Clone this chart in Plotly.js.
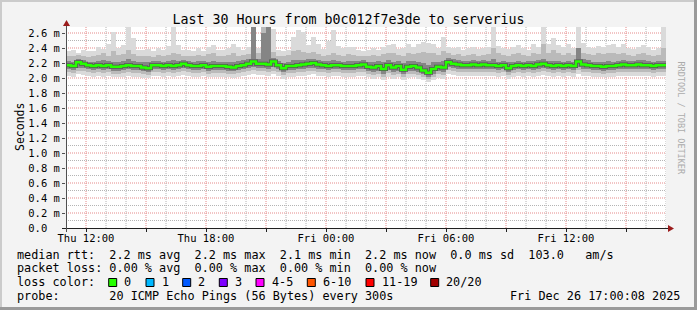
<!DOCTYPE html>
<html>
<head>
<meta charset="utf-8">
<script src="https://cdn.plot.ly/plotly-3.0.1.min.js"></script>
<style>html,body{margin:0;padding:0;background:#f3f3f3;}#chart{width:697px;height:310px;}</style>
</head>
<body>
<div id="chart"></div>
<script>
// ---- data (15-minute steps, starting Thu 11:00) ----
const startTime = Date.UTC(2025, 11, 25, 11, 0, 0);
const endTime = Date.UTC(2025, 11, 26, 17, 0, 0);
const stepMinutes = 15;

const median = [
 2.17,2.16,2.21,2.19,2.17,2.16,2.17,2.16,2.17,2.15,2.15,2.16,
 2.17,2.16,2.16,2.14,2.13,2.17,2.17,2.16,2.17,2.16,2.17,2.19,
 2.17,2.16,2.16,2.17,2.15,2.16,2.16,2.16,2.15,2.14,2.16,2.17,
 2.19,2.22,2.19,2.19,2.18,2.22,2.17,2.13,2.16,2.16,2.17,2.18,
 2.19,2.20,2.18,2.17,2.16,2.17,2.17,2.16,2.16,2.16,2.17,2.18,
 2.15,2.14,2.16,2.12,2.17,2.14,2.16,2.11,2.15,2.16,2.14,2.10,
 2.07,2.12,2.15,2.14,2.21,2.19,2.18,2.17,2.17,2.18,2.17,2.18,
 2.17,2.17,2.16,2.17,2.13,2.16,2.17,2.16,2.17,2.16,2.18,2.19,
 2.17,2.16,2.17,2.16,2.17,2.16,2.22,2.18,2.17,2.16,2.16,2.15,
 2.16,2.16,2.17,2.18,2.17,2.17,2.18,2.17,2.17,2.16,2.17,2.17
];
const pingMax = [
 2.36,2.38,2.34,2.37,2.36,2.36,2.41,2.39,2.45,2.61,2.40,2.44,
 2.68,2.53,2.38,2.37,2.39,2.36,2.40,2.38,2.43,2.68,2.44,2.37,
 2.37,2.36,2.40,2.36,2.42,2.44,2.38,2.37,2.40,2.46,2.41,2.38,
 2.42,2.68,2.40,2.68,2.68,2.66,2.38,2.36,2.38,2.55,2.64,2.62,
 2.44,2.55,2.45,2.39,2.50,2.64,2.43,2.40,2.41,2.42,2.38,2.36,
 2.38,2.40,2.37,2.41,2.44,2.45,2.39,2.40,2.45,2.42,2.46,2.48,
 2.47,2.45,2.40,2.55,2.42,2.40,2.41,2.38,2.40,2.41,2.39,2.40,
 2.42,2.68,2.43,2.40,2.39,2.41,2.44,2.40,2.38,2.46,2.42,2.68,
 2.45,2.53,2.44,2.41,2.46,2.40,2.68,2.47,2.42,2.40,2.43,2.41,
 2.44,2.46,2.42,2.45,2.40,2.39,2.42,2.44,2.41,2.38,2.40,2.68
];
const ping90 = [
 2.29,2.30,2.31,2.30,2.28,2.29,2.31,2.33,2.30,2.36,2.31,2.32,
 2.38,2.32,2.30,2.29,2.30,2.28,2.31,2.30,2.31,2.34,2.32,2.30,
 2.30,2.29,2.31,2.29,2.32,2.33,2.30,2.29,2.31,2.33,2.30,2.31,
 2.32,2.68,2.33,2.68,2.68,2.35,2.30,2.29,2.31,2.36,2.38,2.35,
 2.33,2.35,2.32,2.30,2.31,2.34,2.31,2.30,2.32,2.31,2.30,2.29,
 2.30,2.31,2.30,2.32,2.34,2.33,2.31,2.30,2.34,2.32,2.33,2.35,
 2.34,2.33,2.31,2.36,2.33,2.31,2.32,2.30,2.31,2.32,2.30,2.31,
 2.32,2.40,2.33,2.31,2.30,2.32,2.34,2.31,2.30,2.33,2.32,2.45,
 2.34,2.37,2.33,2.31,2.33,2.31,2.40,2.34,2.32,2.31,2.33,2.32,
 2.33,2.34,2.32,2.33,2.31,2.30,2.32,2.34,2.31,2.30,2.31,2.40
];
const ping75 = [
 2.23,2.22,2.26,2.24,2.22,2.22,2.23,2.24,2.23,2.22,2.22,2.23,
 2.25,2.23,2.22,2.21,2.21,2.23,2.23,2.22,2.23,2.24,2.23,2.24,
 2.23,2.22,2.23,2.23,2.22,2.23,2.22,2.22,2.22,2.21,2.23,2.24,
 2.25,2.68,2.25,2.60,2.68,2.27,2.23,2.20,2.22,2.24,2.24,2.24,
 2.25,2.26,2.24,2.23,2.23,2.24,2.23,2.22,2.23,2.23,2.23,2.24,
 2.22,2.22,2.23,2.21,2.24,2.22,2.23,2.20,2.23,2.23,2.22,2.20,
 2.18,2.21,2.22,2.23,2.27,2.25,2.24,2.23,2.23,2.24,2.23,2.24,
 2.23,2.25,2.22,2.23,2.21,2.22,2.23,2.22,2.23,2.23,2.24,2.26,
 2.23,2.23,2.23,2.22,2.23,2.22,2.40,2.26,2.24,2.22,2.22,2.22,
 2.23,2.22,2.23,2.24,2.23,2.23,2.24,2.24,2.23,2.22,2.23,2.23
];
const ping25 = [
 2.12,2.11,2.14,2.13,2.12,2.11,2.12,2.11,2.12,2.10,2.10,2.11,
 2.12,2.11,2.11,2.09,2.08,2.12,2.12,2.11,2.12,2.11,2.12,2.13,
 2.12,2.11,2.11,2.12,2.10,2.11,2.11,2.11,2.10,2.09,2.11,2.12,
 2.13,2.15,2.13,2.13,2.12,2.15,2.12,2.08,2.11,2.11,2.12,2.12,
 2.13,2.14,2.12,2.12,2.11,2.12,2.12,2.11,2.11,2.11,2.12,2.12,
 2.10,2.08,2.10,2.06,2.11,2.08,2.10,2.05,2.09,2.10,2.08,2.05,
 2.02,2.06,2.09,2.08,2.15,2.13,2.12,2.12,2.12,2.12,2.12,2.12,
 2.12,2.12,2.11,2.12,2.08,2.11,2.12,2.11,2.12,2.11,2.12,2.13,
 2.12,2.11,2.12,2.11,2.12,2.11,2.15,2.12,2.12,2.11,2.11,2.10,
 2.11,2.11,2.12,2.12,2.12,2.12,2.12,2.12,2.12,2.11,2.12,2.12
];
const ping10 = [
 2.08,2.07,2.10,2.09,2.08,2.07,2.08,2.07,2.08,2.06,2.06,2.07,
 2.08,2.07,2.07,2.05,2.04,2.08,2.08,2.07,2.08,2.07,2.08,2.09,
 2.08,2.07,2.07,2.08,2.06,2.07,2.07,2.07,2.06,2.05,2.07,2.08,
 2.09,2.11,2.09,2.09,2.08,2.10,2.08,2.04,2.07,2.07,2.08,2.08,
 2.09,2.10,2.08,2.08,2.07,2.08,2.08,2.07,2.07,2.07,2.08,2.08,
 2.06,2.04,2.06,2.02,2.07,2.04,2.06,2.01,2.05,2.06,2.04,2.01,
 1.99,2.02,2.05,2.04,2.11,2.09,2.08,2.08,2.08,2.08,2.08,2.08,
 2.08,2.08,2.07,2.08,2.04,2.07,2.08,2.07,2.08,2.07,2.08,2.09,
 2.08,2.07,2.08,2.07,2.08,2.07,2.11,2.08,2.08,2.07,2.07,2.06,
 2.07,2.07,2.08,2.08,2.08,2.08,2.08,2.08,2.08,2.07,2.08,2.08
];
const pingMin = [
 2.03,2.02,2.05,2.04,2.03,2.01,2.03,2.02,2.03,2.01,2.02,2.02,
 2.03,2.02,2.02,2.00,2.00,2.03,2.03,2.02,2.03,2.02,2.03,2.04,
 2.03,2.02,2.02,2.03,2.01,2.02,2.02,2.02,2.01,2.00,2.02,2.03,
 2.04,2.06,2.04,2.04,2.03,2.05,2.03,1.99,2.02,2.02,2.03,2.03,
 2.04,2.05,2.03,2.03,2.02,2.03,2.03,2.02,2.02,2.02,2.03,2.03,
 2.01,1.99,2.01,1.98,2.02,1.99,2.01,1.97,2.00,2.01,1.99,1.97,
 1.95,1.98,2.00,1.99,2.06,2.04,2.03,2.03,2.03,2.03,2.03,2.03,
 2.03,2.03,2.02,2.03,1.99,2.02,2.03,2.02,2.03,2.02,2.03,2.04,
 2.03,2.02,2.03,2.02,2.03,2.02,2.06,2.03,2.03,2.02,2.02,2.01,
 2.02,2.02,2.03,2.03,2.03,2.03,2.03,2.03,2.03,2.02,2.03,2.03
];

const xTickVals = ['2025-12-25 12:00','2025-12-25 15:00','2025-12-25 18:00','2025-12-25 21:00',
  '2025-12-26 00:00','2025-12-26 03:00','2025-12-26 06:00','2025-12-26 09:00','2025-12-26 12:00','2025-12-26 15:00'];
const xTickText = ['Thu 12:00','','Thu 18:00','','Fri 00:00','','Fri 06:00','','Fri 12:00',''];
const yTickVals = [0,0.2,0.4,0.6,0.8,1.0,1.2,1.4,1.6,1.8,2.0,2.2,2.4,2.6];
const yTickText = ['0.0\u00a0\u00a0','0.2 m','0.4 m','0.6 m','0.8 m','1.0 m','1.2 m','1.4 m','1.6 m','1.8 m','2.0 m','2.2 m','2.4 m','2.6 m'];
const yMinorStep = 0.1;
const xMinorHours = 1;
const xMajorHours = 3;

const lossLabels = ['0','1','2','3','4-5','6-10','11-19','20/20'];
const lossColors = ['#26ff00','#00b8ff','#0059ff','#7e00ff','#ff00ff','#ff5500','#ff0000','#a10000'];

const titleText = 'Last 30 Hours from b0c012f7e3de to serverius';
const legendLine1 = 'median rtt:  2.2 ms avg  2.2 ms max  2.1 ms min  2.2 ms now  0.0 ms sd  103.0   am/s';
const legendLine2 = 'packet loss: 0.00 % avg  0.00 % max  0.00 % min  0.00 % now';
const legendLine3 = 'loss color:';
const probeText = 'probe:       20 ICMP Echo Pings (56 Bytes) every 300s';
const dateText = 'Fri Dec 26 17:00:08 2025';

// ---- helpers ----
function fmt(ms){
  const d = new Date(ms);
  const p = n => String(n).padStart(2,'0');
  return d.getUTCFullYear()+'-'+p(d.getUTCMonth()+1)+'-'+p(d.getUTCDate())+' '+p(d.getUTCHours())+':'+p(d.getUTCMinutes())+':'+p(d.getUTCSeconds());
}
const stepMs = stepMinutes*60000;
const centers = median.map((_,i)=>fmt(startTime + (i+0.5)*stepMs));
const starts = median.map((_,i)=>fmt(startTime + i*stepMs));
const lineX = starts.concat([fmt(startTime + median.length*stepMs)]);
const lineY = median.concat([median[median.length-1]]);
const nb = s => s.replace(/ /g,'\u00a0');

// pixel -> paper helpers (plot area: x 66..666, y 27..228)
const PX = px => (px-66)/600;
const PY = py => (228-py)/201;

function band(lo, hi, color){
  return {type:'bar', x:centers, base:lo, y:hi.map((v,i)=>v-lo[i]), width:stepMs,
    marker:{color:color, line:{width:0}}, hoverinfo:'skip', showlegend:false};
}

const traces = [
  band(pingMin, pingMax, '#dadada'),
  band(ping10, ping90, '#bababa'),
  band(ping25, ping75, '#858585'),
  {type:'scatter', mode:'lines', x:lineX, y:lineY, line:{shape:'hv', color:'#555555', width:4}, hoverinfo:'skip', showlegend:false},
  {type:'scatter', mode:'lines', x:lineX, y:lineY, line:{shape:'hv', color:'#26ff00', width:2.5}, hoverinfo:'skip', showlegend:false}
];

const mono = 'DejaVu Sans Mono';
const minorGrid = '#b4b4b4';
const majorGrid = '#e58a8a';
const shapes = [];

// grid (dotted), drawn below the traces
for (let k = 1; k <= 26; k++) {
  const v = Math.round(k*yMinorStep*10)/10;
  const major = k % 2 === 0;
  shapes.push({type:'line', layer:'below', xref:'paper', yref:'y', x0:0, x1:1, y0:v, y1:v,
    line:{color: major ? majorGrid : minorGrid, width:1, dash:'1px,1px'}});
}
for (let h = 1; h <= 30; h++) {
  const t = startTime + h*xMinorHours*3600000;
  const major = ((11 + h) % xMajorHours) === 0;
  shapes.push({type:'line', layer:'below', xref:'x', yref:'paper', x0:fmt(t), x1:fmt(t), y0:0, y1:1,
    line:{color: major ? majorGrid : minorGrid, width:1, dash:'1px,1px'}});
}

shapes.push(
  // 3D frame
  {type:'rect', xref:'paper', yref:'paper', x0:PX(0), x1:PX(697), y0:PY(2), y1:PY(0), fillcolor:'#cbcbcb', line:{width:0}},
  {type:'rect', xref:'paper', yref:'paper', x0:PX(0), x1:PX(2), y0:PY(310), y1:PY(0), fillcolor:'#cbcbcb', line:{width:0}},
  {type:'rect', xref:'paper', yref:'paper', x0:PX(0), x1:PX(697), y0:PY(310), y1:PY(307), fillcolor:'#9a9a9a', line:{width:0}},
  {type:'rect', xref:'paper', yref:'paper', x0:PX(694), x1:PX(697), y0:PY(310), y1:PY(0), fillcolor:'#9a9a9a', line:{width:0}},
  // axes
  {type:'line', xref:'paper', yref:'paper', x0:PX(62), x1:PX(668), y0:PY(228.5), y1:PY(228.5), line:{color:'#202020', width:1}},
  {type:'line', xref:'paper', yref:'paper', x0:PX(66.5), x1:PX(66.5), y0:PY(232), y1:PY(24), line:{color:'#505050', width:1}},
  // arrows
  {type:'path', xref:'paper', yref:'paper', path:'M '+PX(668)+' '+PY(225)+' L '+PX(674)+' '+PY(228.5)+' L '+PX(668)+' '+PY(232)+' Z', fillcolor:'#9b1c1c', line:{width:0}},
  {type:'path', xref:'paper', yref:'paper', path:'M '+PX(63)+' '+PY(26)+' L '+PX(66.5)+' '+PY(20)+' L '+PX(70)+' '+PY(26)+' Z', fillcolor:'#9b1c1c', line:{width:0}}
);

const boxLeft = [108.7,146,182.7,219.3,256,307.3,366,430.7];
const annotations = [
  {text:'Seconds', xref:'paper', yref:'paper', x:PX(11), y:PY(127), textangle:-90, showarrow:false, font:{family:mono, size:11.5, color:'#000'}},
  {text:nb('RRDTOOL / TOBI OETIKER'), xref:'paper', yref:'paper', x:PX(688), y:PY(59), textangle:90, showarrow:false, font:{family:mono, size:8.5, color:'#ababab'}},
  {text:nb(legendLine1), xref:'paper', yref:'paper', x:PX(15), y:PY(254.5), xanchor:'left', yanchor:'middle', showarrow:false, font:{family:mono, size:11.8, color:'#000'}},
  {text:nb(legendLine2), xref:'paper', yref:'paper', x:PX(15), y:PY(268.3), xanchor:'left', yanchor:'middle', showarrow:false, font:{family:mono, size:11.8, color:'#000'}},
  {text:nb(legendLine3), xref:'paper', yref:'paper', x:PX(15), y:PY(282), xanchor:'left', yanchor:'middle', showarrow:false, font:{family:mono, size:11.8, color:'#000'}},
  {text:nb(probeText), xref:'paper', yref:'paper', x:PX(15), y:PY(295.5), xanchor:'left', yanchor:'middle', showarrow:false, font:{family:mono, size:11.8, color:'#000'}},
  {text:nb(dateText), xref:'paper', yref:'paper', x:PX(682), y:PY(295.5), xanchor:'right', yanchor:'middle', showarrow:false, font:{family:mono, size:11.8, color:'#000'}}
];
lossLabels.forEach((lab,i)=>{
  shapes.push({type:'rect', xref:'paper', yref:'paper', x0:PX(boxLeft[i]), x1:PX(boxLeft[i]+8), y0:PY(286.5), y1:PY(278.5), fillcolor:lossColors[i], line:{color:'#000', width:1}});
  annotations.push({text:nb(lab), xref:'paper', yref:'paper', x:PX(boxLeft[i]+13.5), y:PY(282), xanchor:'left', yanchor:'middle', showarrow:false, font:{family:mono, size:11.8, color:'#000'}});
});

const layout = {
  width:697, height:310,
  margin:{l:66, r:31, t:27, b:82, pad:0},
  paper_bgcolor:'#f3f3f3', plot_bgcolor:'#ffffff',
  font:{family:mono, color:'#000'},
  title:{text:titleText, x:0.5, xref:'container', xanchor:'center', y:1-19/310, yref:'container', yanchor:'middle', font:{family:mono, size:13.3, color:'#000'}},
  barmode:'overlay', bargap:0,
  showlegend:false,
  xaxis:{type:'date', range:[fmt(startTime), fmt(endTime)], tickmode:'array', tickvals:xTickVals, ticktext:xTickText,
    ticks:'outside', ticklen:3, tickcolor:'#202020', tickfont:{family:mono, size:10.5, color:'#000'}, ticklabelstandoff:-3,
    showgrid:false, zeroline:false, showline:false, fixedrange:true},
  yaxis:{range:[0,2.68], tickmode:'array', tickvals:yTickVals, ticktext:yTickText,
    ticks:'outside', ticklen:3, tickcolor:'#505050', tickfont:{family:mono, size:10.5, color:'#000'},
    showgrid:false, zeroline:false, showline:false, fixedrange:true},
  shapes:shapes,
  annotations:annotations
};

Plotly.newPlot('chart', traces, layout, {staticPlot:true, displayModeBar:false});
</script>
</body>
</html>
